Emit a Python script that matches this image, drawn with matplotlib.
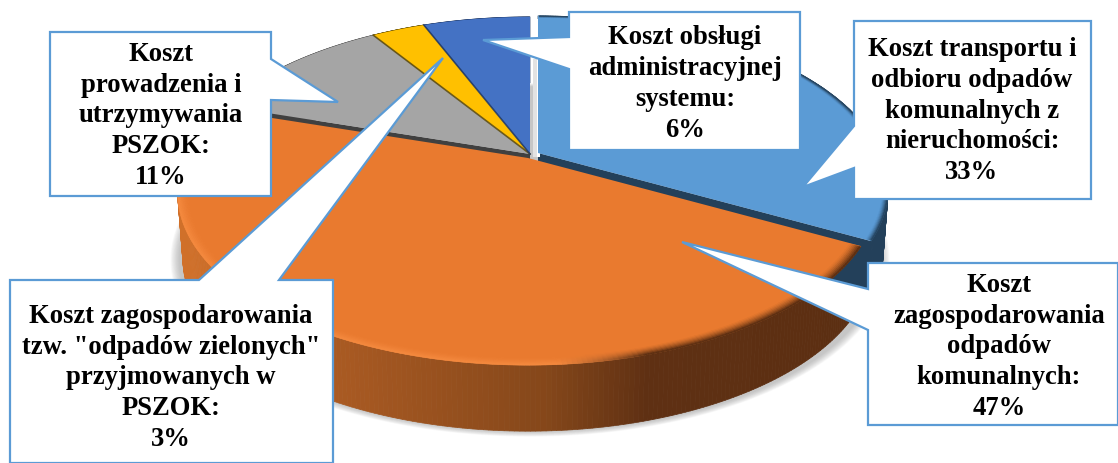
import numpy as np
import matplotlib
matplotlib.use("Agg")
import matplotlib.pyplot as plt
from matplotlib.collections import PolyCollection
from matplotlib.colors import to_rgb

# udzial kosztow, zgodnie z ruchem wskazowek zegara od gory
categories = [
    "Koszt transportu i\nodbioru odpadów\nkomunalnych z\nnieruchomości:",
    "Koszt\nzagospodarowania\nodpadów\nkomunalnych:",
    "Koszt\nprowadzenia i\nutrzymywania\nPSZOK:",
    "Koszt zagospodarowania\ntzw. \"odpadów zielonych\"\nprzyjmowanych w\nPSZOK:",
    "Koszt obsługi\nadministracyjnej\nsystemu:",
]
shares = [33, 47, 11, 3, 6]
colors = ["#5b9bd5", "#e97a2f", "#a5a5a5", "#ffc000", "#4472c4"]
wall_colors = ["#23405a", "#5c2f12", "#404040", "#5a4600", "#1f3864"]
offsets = [(8, -1), (-2, 4), (0, 0), (0, 0), (0, 0)]

# polozenie etykiet: srodek tekstu i obrys dymka
label_pos = [(972, 111), (999, 347), (161, 116), (171, 378), (685, 84)]
callouts = [
    [(854, 22), (1091, 22), (1091, 200), (854, 200), (854, 169), (803, 188), (854, 127)],
    [(868, 264), (1118, 264), (1118, 426), (868, 426), (868, 331), (682, 243), (868, 290)],
    [(50, 33), (271, 33), (271, 60), (338, 103), (271, 101), (271, 197), (50, 197)],
    [(10, 281), (199, 281), (443, 59), (279, 281), (333, 281), (333, 464), (10, 464)],
    [(569, 13), (800, 13), (800, 151), (569, 151), (569, 70), (483, 41), (569, 38)],
]

CX, CY = 530, 155
R, S, K = 343, 165, 0.2035
DEPTH = 66

side_x = [190, 330, 550, 650, 860]
side_rgb = np.array([to_rgb(c) for c in ["#d0702a", "#ab5b23", "#85471a", "#5f3013", "#5c2f12"]])


def project(theta, rho=1.0):
    # kat liczony od gory, perspektywa przesuwa wierzcholek ku tylowi
    x = rho * np.sin(theta)
    y = rho * np.cos(theta)
    w = 1 + K * y
    return CX + R * x / w, CY - S * y / w


def arc(t0, t1, rho=1.0, n=120):
    return np.column_stack(project(np.linspace(t0, t1, n), rho))


def lerp(a, b, t):
    return tuple(np.array(to_rgb(a)) * (1 - t) + np.array(to_rgb(b)) * t)


fig = plt.figure(figsize=(11.18, 4.64), dpi=100)
ax = fig.add_axes([0, 0, 1, 1])
ax.set_xlim(0, 1118)
ax.set_ylim(464, 0)
ax.axis("off")

edges = np.r_[0, np.cumsum(shares)] / sum(shares) * 2 * np.pi
centre = np.array([CX, CY])

# cien pod kolem
full = arc(0, 2 * np.pi, n=300)
for i in range(12):
    grow = 1 + (12 - i) * 0.0022
    pts = (full - centre) * grow + centre + [0, DEPTH + 4]
    ax.fill(pts[:, 0], pts[:, 1], color="#808080", alpha=0.045, lw=0, zorder=1)

# scianki boczne
for i, (t0, t1) in enumerate(zip(edges[:-1], edges[1:])):
    off = np.array(offsets[i])
    top = arc(t0, t1, n=240) + off
    bottom = (top - centre - off) * [0.985, 1.0] + centre + off + [0, DEPTH]
    quads = [np.vstack([top[j], top[j + 1], bottom[j + 1], bottom[j]]) for j in range(len(top) - 1)]
    if i == 1:
        mid = top[:-1, 0]
        cols = np.column_stack([np.interp(mid, side_x, side_rgb[:, c]) for c in range(3)])
    else:
        cols = [wall_colors[i]] * len(quads)
    ax.add_collection(PolyCollection(quads, facecolors=cols, edgecolors=cols, linewidths=0.5, zorder=2))

# scianki promieniowe odsloniete przez przesuniecie wycinkow
for i, t in [(0, edges[1]), (2, edges[2])]:
    off = np.array(offsets[i])
    p = arc(t, t, n=1)[0] + off
    a = centre + off
    ax.fill([a[0], p[0], p[0], a[0]], [a[1], p[1], p[1] + DEPTH, a[1] + DEPTH],
            color=wall_colors[i], lw=0, zorder=3)
ax.fill([533, 540, 540, 533], [20, 20, 158, 158], color="#ffffff", lw=0, zorder=3)
ax.fill([533, 537, 537, 533], [60, 60, 158, 158], color="#e2e2e2", lw=0, zorder=3)

# gorne powierzchnie wycinkow
draw_order = [2, 3, 4, 0, 1]
for i in draw_order:
    t0, t1 = edges[i], edges[i + 1]
    off = np.array(offsets[i])
    pts = np.vstack([centre, arc(t0, t1, n=200)]) + off
    ax.fill(pts[:, 0], pts[:, 1], color=colors[i], lw=0, zorder=4 + (i == 1))

# fazowana krawedz pomaranczowego i niebieskiego wycinka
rims = [(0, "#23405a", 0.985), (1, "#5c2f12", 0.97)]
for i, dark, start in rims:
    t0, t1 = edges[i], edges[i + 1]
    off = np.array(offsets[i])
    steps = np.linspace(start, 1, 8)
    for r0, r1 in zip(steps[:-1], steps[1:]):
        outer = arc(t0 + 0.004, t1 - 0.004, r1, n=240) + off
        inner = arc(t0 + 0.004, t1 - 0.004, r0, n=240) + off
        quads = [np.vstack([outer[j], outer[j + 1], inner[j + 1], inner[j]]) for j in range(len(outer) - 1)]
        f = ((r1 - start) / (1 - start)) ** 1.5
        cols = []
        for x in outer[:-1, 0]:
            # po lewej jasna krawedz, po prawej ciemna
            mix = np.clip((x - 560) / 90, 0, 1) if i == 1 else 0.75
            target = lerp("#f98f45", dark, mix) if i == 1 else dark
            cols.append(lerp(colors[i], target, f * (0.7 + 0.3 * mix)))
        ax.add_collection(PolyCollection(quads, facecolors=cols, edgecolors=cols, linewidths=0.4, zorder=6))

# ciemne linie miedzy wycinkami
for i, col in [(2, "#5a4a10"), (3, "#1f3864")]:
    p = arc(edges[i + 1], edges[i + 1], n=1)[0]
    ax.plot([CX, p[0]], [CY, p[1]], color=col, lw=1.2, alpha=0.85, zorder=7)

# dymki z etykietami
for name, share, outline, (tx, ty) in zip(categories, shares, callouts, label_pos):
    pts = np.array(outline)
    ax.fill(pts[:, 0], pts[:, 1], facecolor="white", edgecolor="#5b9bd5", lw=1.6,
            joinstyle="miter", zorder=10, clip_on=True)
    ax.text(tx, ty, f"{name}\n{share}%", ha="center", va="center", multialignment="center",
            family="Liberation Serif", fontweight="bold", fontsize=19.2, linespacing=1.3,
            color="black", zorder=11)

fig.savefig("out.png", dpi=100)
